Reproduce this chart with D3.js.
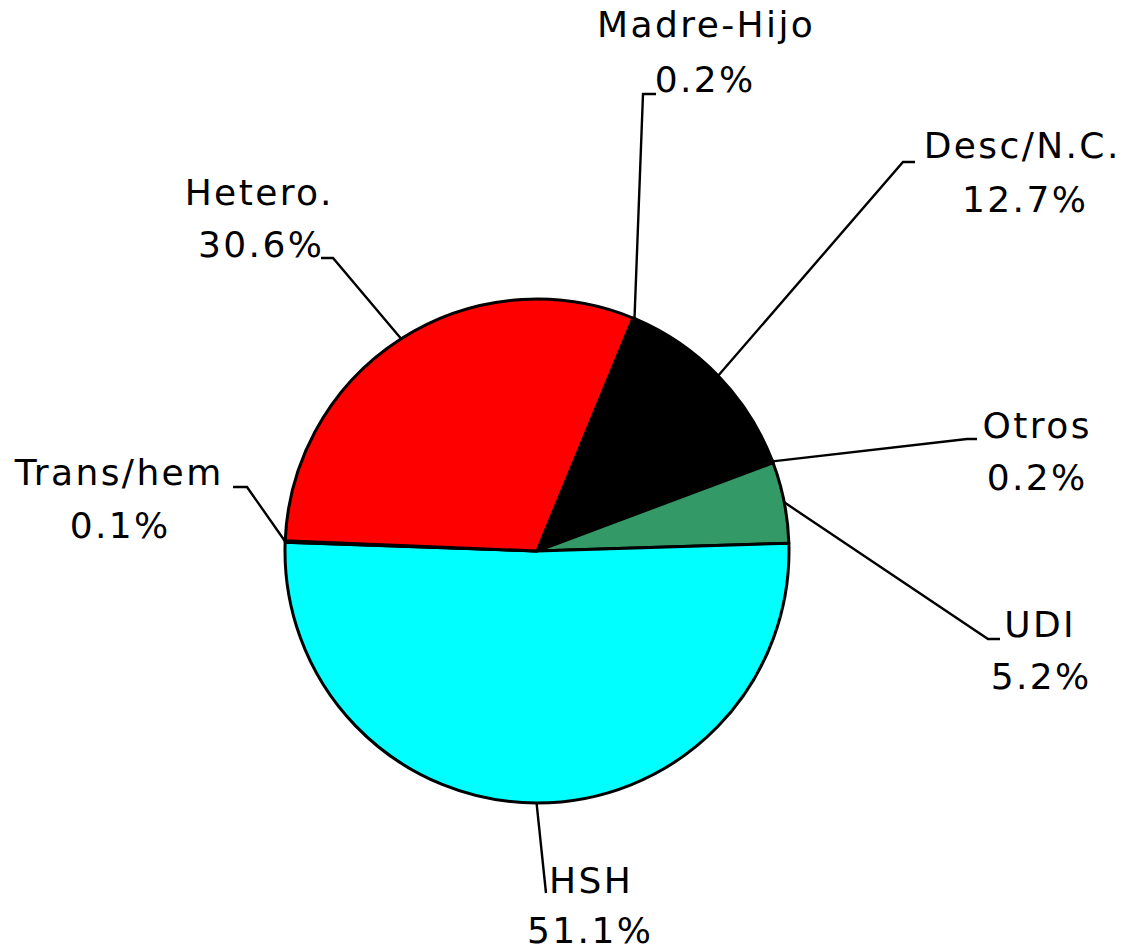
<!DOCTYPE html>
<html>
<head>
<meta charset="utf-8">
<script src="https://cdn.jsdelivr.net/npm/d3@7"></script>
<style>
  body { margin: 0; background: #ffffff; }
  svg { display: block; }
  .label { font-family: "DejaVu Sans", sans-serif; font-size: 36px; fill: #000; letter-spacing: 2.4px; }
  .leader { fill: none; stroke: #000; stroke-width: 2.4; }
</style>
</head>
<body>
<div id="chart"></div>
<script>
const WIDTH = 1124;
const HEIGHT = 951;

// slices in clockwise order, starting just right of 12 o'clock
const categories = ["Madre-Hijo", "Desc/N.C.", "Otros", "UDI", "HSH", "Trans/hem", "Hetero."];
const values = [0.2, 12.7, 0.2, 5.2, 51.1, 0.1, 30.6];
const valueLabels = ["0.2%", "12.7%", "0.2%", "5.2%", "51.1%", "0.1%", "30.6%"];
const sliceColors = ["#ffff00", "#000000", "#ff00ff", "#339966", "#00ffff", "#993300", "#ff0000"];

// label layout: line centers, baselines and leader elbow
const labelLayout = {
  "Madre-Hijo": { x: [705, 704], y: [37, 92], elbow: [[656, 94], [643, 94]] },
  "Desc/N.C.": { x: [1021, 1024], y: [158, 212], elbow: [[915, 162], [903, 162]] },
  "Otros": { x: [1036, 1036], y: [438, 490], elbow: [[977, 439], [967, 439]] },
  "UDI": { x: [1039, 1040], y: [637, 689], elbow: [[1000, 639], [988, 639]] },
  "HSH": { x: [590, 589], y: [893, 943], elbow: [[546, 893]] },
  "Trans/hem": { x: [118, 119], y: [485, 538], elbow: [[233, 487], [247, 487]] },
  "Hetero.": { x: [258, 260], y: [205, 257], elbow: [[321, 258], [333, 258]] },
};

const cx = 537;
const cy = 551;
const radius = 252;
const letterSpacing = 2.4;

const svg = d3
  .select("#chart")
  .append("svg")
  .attr("width", WIDTH)
  .attr("height", HEIGHT);

const rows = categories.map((name, i) => ({ name, value: values[i], label: valueLabels[i], color: sliceColors[i] }));

const startAngle = (22.4 * Math.PI) / 180;
const pie = d3
  .pie()
  .sort(null)
  .value((d) => d.value)
  .startAngle(startAngle)
  .endAngle(startAngle + 2 * Math.PI);

const arc = d3.arc().innerRadius(0).outerRadius(radius);
const arcs = pie(rows);

const g = svg.append("g").attr("transform", `translate(${cx},${cy})`);

g.selectAll("path.slice")
  .data(arcs)
  .join("path")
  .attr("class", "slice")
  .attr("d", arc)
  .attr("fill", (d) => d.data.color)
  .attr("stroke", "#000")
  .attr("stroke-width", 3)
  .attr("stroke-linejoin", "round");

// leader lines from label elbow to the arc at each slice's mid angle
svg
  .append("g")
  .selectAll("polyline")
  .data(arcs)
  .join("polyline")
  .attr("class", "leader")
  .attr("points", (d) => {
    const mid = (d.startAngle + d.endAngle) / 2;
    const edge = [cx + radius * Math.sin(mid), cy - radius * Math.cos(mid)];
    return [...labelLayout[d.data.name].elbow, edge].map((p) => p.join(",")).join(" ");
  });

const labels = svg
  .append("g")
  .selectAll("g.lbl")
  .data(arcs)
  .join("g")
  .attr("class", "lbl");

labels
  .append("text")
  .attr("class", "label")
  .attr("text-anchor", "middle")
  .attr("x", (d) => labelLayout[d.data.name].x[0] + letterSpacing / 2)
  .attr("y", (d) => labelLayout[d.data.name].y[0])
  .text((d) => d.data.name);

labels
  .append("text")
  .attr("class", "label")
  .attr("text-anchor", "middle")
  .attr("x", (d) => labelLayout[d.data.name].x[1] + letterSpacing / 2)
  .attr("y", (d) => labelLayout[d.data.name].y[1])
  .text((d) => d.data.label);
</script>
</body>
</html>
